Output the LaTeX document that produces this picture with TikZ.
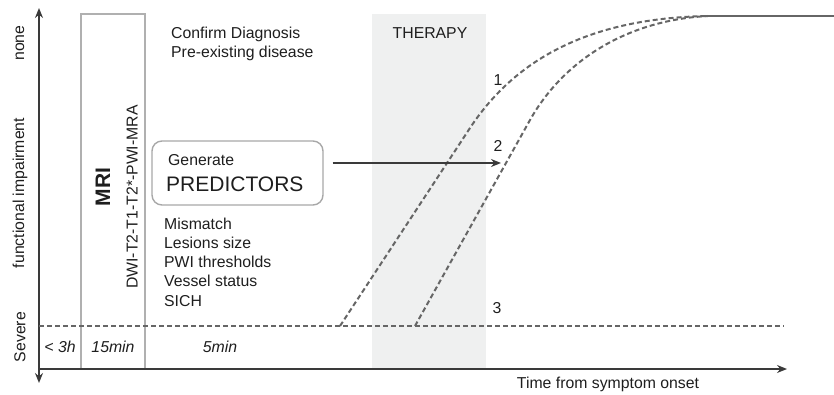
\documentclass[tikz,border=0pt]{standalone}
\usepackage{fontspec}
\setmainfont{Liberation Sans}
\usetikzlibrary{arrows.meta}
\definecolor{txt}{HTML}{1E1E1E}
\definecolor{axis}{HTML}{3A3A3A}
\definecolor{mrigray}{HTML}{B0B0B0}
\definecolor{dashgray}{HTML}{666666}
\definecolor{bandfill}{HTML}{EFF0F0}
\definecolor{boxgray}{HTML}{A8A8A8}
\tikzset{
  lbl/.style={font=\fontsize{15.8pt}{19pt}\selectfont, text=txt, inner sep=0pt},
  axisline/.style={draw=axis, line width=1.6pt, -{Stealth[length=10pt,width=8pt]}},
  curve/.style={draw=dashgray, line width=2pt, dash pattern=on 5pt off 3pt},
}
\begin{document}
\begin{tikzpicture}[x=1pt,y=-1pt]
\useasboundingbox (0,0) rectangle (834,395);
% therapy band
\fill[bandfill] (372,14) rectangle (486,369);
% MRI box
\draw[mrigray, line width=1.4pt] (81,369) -- (81,14) -- (145,14) -- (145,369);
% coordinates
\coordinate (yb) at (39,383);
\coordinate (yt) at (39,8);
\coordinate (xo) at (39,369);
\coordinate (xe) at (787,369);
% axes
\draw[axisline] (39,369) -- (yt);
\draw[axisline] (39,369) -- (yb);
\draw[axisline] (xo) -- (xe);
% severe baseline
\coordinate (s0) at (39,326);
\coordinate (s1) at (784,326);
\draw[curve] (s0) -- (s1);
% recovery curves
\coordinate (c1s) at (340,326);
\coordinate (c2s) at (415,326);
\coordinate (top) at (708,16);
\coordinate (topr) at (834,16);
\draw[curve] (c1s) -- (470,128) .. controls (520,52) and (600,18) .. (top);
\draw[curve] (c2s) -- (530,120) .. controls (565,58) and (630,20) .. (top);
\draw[dashgray, line width=2pt] (top) -- (topr);
% predictors box
\node[draw=boxgray, line width=1.4pt, rounded corners=10pt, minimum width=171pt, minimum height=64pt, inner sep=0pt] (pbox) at (237.5,173) {};
\node[lbl, anchor=west] (gen) at (168,160) {Generate};
\node[lbl, anchor=west, font=\fontsize{21pt}{24pt}\selectfont] (pred) at (166,184) {PREDICTORS};
\coordinate (arrend) at (501,163);
\draw[draw=axis, line width=1.8pt, -{Stealth[length=10pt,width=8pt]}] (pbox.east |- arrend) ++(9,0) -- (arrend);
% texts
\node[lbl, anchor=west] (cd) at (171,34) {Confirm Diagnosis};
\node[lbl, anchor=west] (pe) at (171,53) {Pre-existing disease};
\node[lbl, anchor=north west, align=left, font=\fontsize{15.8pt}{19.1pt}\selectfont] (list) at (164,218) {Mismatch\\Lesions size\\PWI thresholds\\Vessel status\\SICH};
\node[lbl, rotate=90, font=\fontsize{21pt}{24pt}\selectfont\bfseries] (mri) at (103,187) {MRI};
\node[lbl, rotate=90] (seq) at (132,197) {DWI-T2-T1-T2*-PWI-MRA};
\node[lbl] (therapy) at (430,33) {THERAPY};
\node[lbl] (n1) at (498,80) {1};
\node[lbl] (n2) at (498,146) {2};
\node[lbl] (n3) at (497,308) {3};
\node[lbl, font=\fontsize{15.8pt}{19pt}\selectfont\itshape] (t3h) at (60,347) {< 3h};
\node[lbl, font=\fontsize{15.8pt}{19pt}\selectfont\itshape] (t15) at (113,347) {15min};
\node[lbl, font=\fontsize{15.8pt}{19pt}\selectfont\itshape] (t5) at (220,347) {5min};
\node[lbl] (time) at (608,384) {Time from symptom onset};
\node[lbl, rotate=90] (none) at (20,43) {none};
\node[lbl, rotate=90] (fi) at (20,193) {functional impairment};
\node[lbl, rotate=90] (sev) at (20,337) {Severe};
\end{tikzpicture}
\end{document}
